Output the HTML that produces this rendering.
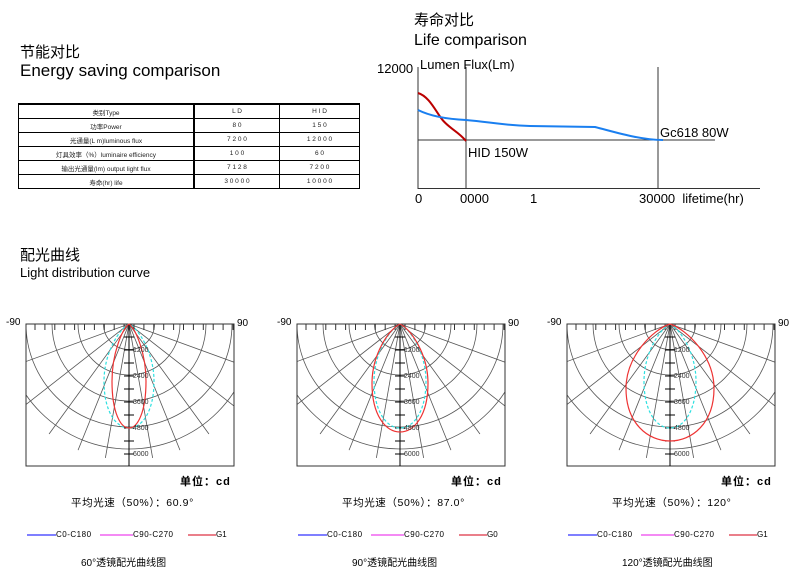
<!DOCTYPE html><html><head><meta charset="utf-8"><style>
body{margin:0;background:#fff;width:800px;height:572px;overflow:hidden;font-family:"Liberation Sans","Noto Sans CJK SC",sans-serif}
.t{position:absolute;white-space:nowrap;color:#000}
table{position:absolute;left:18px;top:103px;width:342px;border-collapse:collapse;font-size:6.5px;color:#222}
td{border:1px solid #000;height:13px;text-align:center;padding:0}
</style></head><body>
<div class="t" style="left:20px;top:41px;font-size:15px">节能对比</div>
<div class="t" style="left:20px;top:61px;font-size:17px">Energy saving comparison</div>
<table><tr><td style="width:174px;border-top:2px solid #000">类别Type</td><td style="width:84px;border-left:2px solid #000;border-top:2px solid #000">L D</td><td style="border-top:2px solid #000">H I D</td></tr>
<tr><td>功率Power</td><td style="border-left:2px solid #000">8 0</td><td>1 5 0</td></tr>
<tr><td>光通量(L m)luminous flux</td><td style="border-left:2px solid #000">7 2 0 0</td><td>1 2 0 0 0</td></tr>
<tr><td>灯具效率（%）luminaire efficiency</td><td style="border-left:2px solid #000">1 0 0</td><td>6 0</td></tr>
<tr><td>输出光通量(lm) output light flux</td><td style="border-left:2px solid #000">7 1 2 8</td><td>7 2 0 0</td></tr>
<tr><td>寿命(hr) life</td><td style="border-left:2px solid #000">3 0 0 0 0</td><td>1 0 0 0 0</td></tr></table>
<div class="t" style="left:414px;top:9px;font-size:15px">寿命对比</div>
<div class="t" style="left:414px;top:32px;font-size:16px">Life comparison</div>
<div class="t" style="left:377px;top:61px;font-size:13px">12000</div>
<div class="t" style="left:420px;top:57px;font-size:13px">Lumen Flux(Lm)</div>
<div class="t" style="left:468px;top:145px;font-size:13px">HID 150W</div>
<div class="t" style="left:660px;top:125px;font-size:13px">Gc618 80W</div>
<div class="t" style="left:415px;top:191px;font-size:13px">0</div>
<div class="t" style="left:460px;top:191px;font-size:13px">0000</div>
<div class="t" style="left:530px;top:191px;font-size:13px">1</div>
<div class="t" style="left:639px;top:191px;font-size:13px">30000&nbsp; lifetime(hr)</div>
<svg style="position:absolute;left:0;top:0" width="800" height="572">
<g stroke="#333" stroke-width="1" fill="none">
<line x1="418" y1="67" x2="418" y2="189"/><line x1="418" y1="188.5" x2="760" y2="188.5"/>
<line x1="466" y1="67" x2="466" y2="189"/><line x1="658" y1="67" x2="658" y2="189"/>
<line x1="418" y1="140" x2="715" y2="140"/></g>
<path d="M418,93 C428,96 434,108 441,118 C448,128 458,131 466,141" stroke="#b00" stroke-width="2" fill="none"/>
<path d="M418,110 C430,116 445,119 466,120 C490,122 500,125 530,126 L595,127 C615,132 640,140 663,140" stroke="#1a7ff0" stroke-width="2" fill="none"/>
<g id="panels"></g>
</svg>
<div class="t" style="left:20px;top:244px;font-size:15px">配光曲线</div>
<div class="t" style="left:20px;top:265px;font-size:13px">Light distribution curve</div>
<div id="txt"></div>
<script>
var P=[{x0:26,cx:129,red:[17,104],cy:[25,104],a:"60.9°",cap:"60°透镜配光曲线图",g:"G1"},
{x0:297,cx:400,red:[28,108],cy:[26,104],a:"87.0°",cap:"90°透镜配光曲线图",g:"G0"},
{x0:567,cx:670,red:[44,117],cy:[26,104],a:"120°",cap:"120°透镜配光曲线图",g:"G1"}];
var s="",h="";
function lobe(cx,cy,w,hh,col,dash){return '<path d="M'+cx+','+cy+' C'+(cx-0.4*w)+','+(cy+0.05*hh)+' '+(cx-w)+','+(cy+0.28*hh)+' '+(cx-w)+','+(cy+0.55*hh)+' C'+(cx-w)+','+(cy+0.85*hh)+' '+(cx-0.5*w)+','+(cy+hh)+' '+cx+','+(cy+hh)+' C'+(cx+0.5*w)+','+(cy+hh)+' '+(cx+w)+','+(cy+0.85*hh)+' '+(cx+w)+','+(cy+0.55*hh)+' C'+(cx+w)+','+(cy+0.28*hh)+' '+(cx+0.4*w)+','+(cy+0.05*hh)+' '+cx+','+cy+'" fill="none" stroke="'+col+'" stroke-width="1.2"'+(dash?' stroke-dasharray="3,2"':'')+'/>';}
P.forEach(function(p,i){var cx=p.cx,cy=324,x0=p.x0,x1=x0+208;
s+='<clipPath id="c'+i+'"><rect x="'+x0+'" y="324" width="208" height="142"/></clipPath>';
s+='<g clip-path="url(#c'+i+')" stroke="#555" stroke-width="0.8" fill="none">';
[25.5,51,77,103,125].forEach(function(r){s+='<path d="M'+(cx-r)+','+cy+' A'+r+','+r+' 0 0 0 '+(cx+r)+','+cy+'"/>';});
[-70,-52,-36,-22,-10,10,22,36,52,70].forEach(function(a){var t=a*Math.PI/180;s+='<line x1="'+cx+'" y1="'+cy+'" x2="'+(cx+136*Math.sin(t))+'" y2="'+(cy+136*Math.cos(t))+'"/>';});
s+='</g>';
s+='<rect x="'+x0+'" y="324" width="208" height="142" fill="none" stroke="#333" stroke-width="1"/>';
for(var x=x0+9;x<x1;x+=9.9)s+='<line x1="'+x+'" y1="324" x2="'+x+'" y2="330" stroke="#333"/>';
s+='<line x1="'+cx+'" y1="324" x2="'+cx+'" y2="466" stroke="#000"/>';
for(var y=337;y<460;y+=13)s+='<line x1="'+(cx-5)+'" y1="'+y+'" x2="'+(cx+5)+'" y2="'+y+'" stroke="#000"/>';
s+=lobe(cx,cy,p.cy[0],p.cy[1],"#2de0e0",1)+lobe(cx,cy,p.red[0],p.red[1],"#e33",0);
["1200","2400","3600","4800","6000"].forEach(function(l,k){s+='<text x="'+(cx+4)+'" y="'+(352+k*26)+'" font-size="7" fill="#333" font-family="Liberation Sans">'+l+'</text>';});
s+='<line x1="'+(x0+1)+'" y1="535" x2="'+(x0+30)+'" y2="535" stroke="#33f" stroke-width="1.2"/><line x1="'+(x0+74)+'" y1="535" x2="'+(x0+107)+'" y2="535" stroke="#e4e" stroke-width="1.2"/><line x1="'+(x0+162)+'" y1="535" x2="'+(x0+190)+'" y2="535" stroke="#d34" stroke-width="1.2"/>';
h+='<div class="t" style="left:'+(x0-20)+'px;top:317px;font-size:10px">-90</div><div class="t" style="left:'+(x1+3)+'px;top:318px;font-size:10px">90</div>';
h+='<div class="t" style="left:'+(x0+154)+'px;top:473px;font-size:11px;letter-spacing:1px;font-weight:bold">单位：cd</div>';
h+='<div class="t" style="left:'+(x0+45)+'px;top:495px;font-size:10.5px;letter-spacing:0.6px">平均光速（50%）：'+p.a+'</div>';
h+='<div class="t" style="left:'+(x0+30)+'px;top:530px;font-size:8px;letter-spacing:0.5px">C0-C180</div><div class="t" style="left:'+(x0+107)+'px;top:530px;font-size:8px;letter-spacing:0.5px">C90-C270</div><div class="t" style="left:'+(x0+190)+'px;top:530px;font-size:8px">'+p.g+'</div>';
h+='<div class="t" style="left:'+(x0+55)+'px;top:554px;font-size:10px">'+p.cap+'</div>';});
document.getElementById("panels").innerHTML=s;document.getElementById("txt").innerHTML=h;
</script></body></html>
